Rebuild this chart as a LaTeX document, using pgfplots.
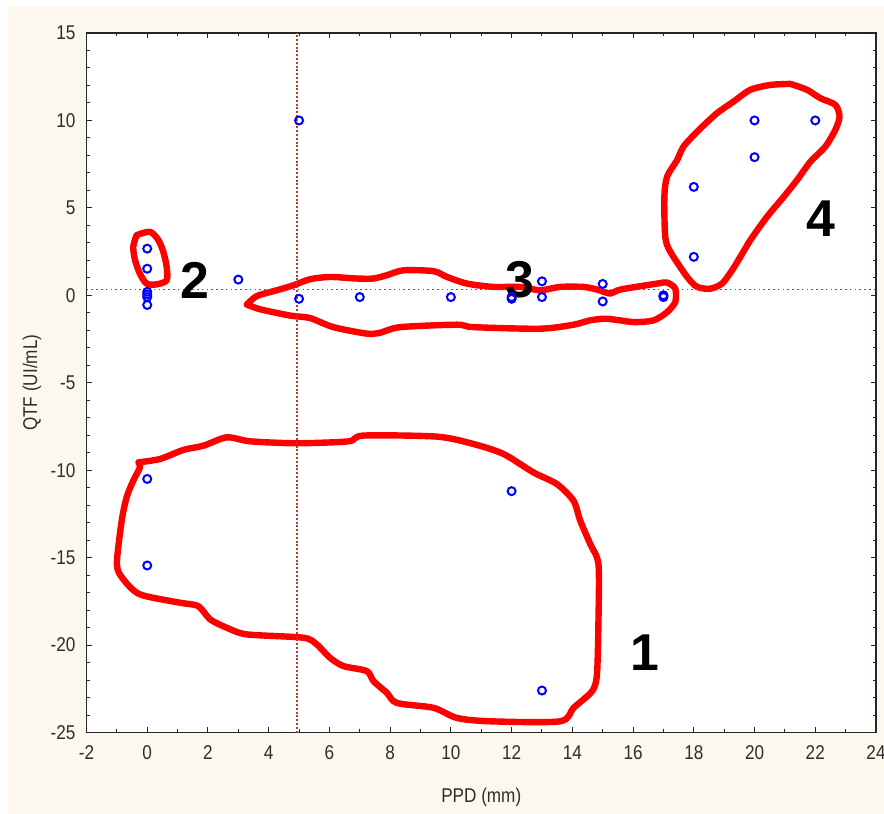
\documentclass[border=0pt]{standalone}
\usepackage{pgfplots}
\pgfplotsset{compat=1.18}
\usepackage{fontspec}
\setmainfont{Liberation Sans}[FakeStretch=0.86]
\newfontfamily\bignum{Liberation Sans}
\definecolor{cream}{RGB}{252,248,238}
\definecolor{refred}{RGB}{185,55,55}
\definecolor{txt}{RGB}{45,45,45}
\begin{document}
\begin{tikzpicture}
\useasboundingbox (0,0) rectangle (442bp,407bp);
\fill[white] (0,0) rectangle (442bp,407bp);
\fill[cream] (4bp,0) rectangle (442bp,403.5bp);
\begin{axis}[
  at={(43.25bp,40.75bp)}, anchor=south west,
  scale only axis, width=394.75bp, height=349.75bp,
  xmin=-2, xmax=24, ymin=-25, ymax=15,
  axis background/.style={fill=white},
  axis line style={black!85, line width=0.7bp},
  tick align=inside,
  major tick length=2.6bp, minor tick length=1.6bp,
  tick style={black!85, line width=0.5bp},
  xtick={-2,0,2,4,6,8,10,12,14,16,18,20,22,24},
  xticklabels={-2,0,2,4,6,8,10,12,14,16,18,20,22,24},
  ytick={-25,-20,-15,-10,-5,0,5,10,15},
  yticklabels={-25,-20,-15,-10,-5,0,5,10,15},
  minor x tick num=1, minor y tick num=4,
  ticklabel style={font=\fontsize{10}{12}\selectfont, text=txt},
  yticklabel style={xshift=-2bp},
  xticklabel style={yshift=-3bp},
  xlabel={PPD (mm)}, ylabel={QTF (UI/mL)},
  label style={font=\fontsize{10}{12}\selectfont, text=txt},
  xlabel style={at={(axis description cs:0.5,0)}, anchor=center, yshift=-32.25bp},
  ylabel style={at={(axis description cs:0,0.5)}, anchor=center, rotate=0, yshift=27.25bp},
  clip=false,
]
% cluster outlines
\addplot[red, line width=3.2bp, smooth, tension=0.45, line join=round, line cap=round] coordinates {
(-0.29,-9.55) (0.42,-9.36) (1.19,-8.84) (1.85,-8.60) (2.62,-8.12) (3.39,-8.35) (4.93,-8.46) (6.63,-8.35) (7.12,-8.02) (9.54,-8.08) (10.74,-8.50) (11.73,-9.07) (12.72,-10.13) (13.49,-10.79) (14.04,-11.75) (14.26,-12.89) (14.59,-14.23) (14.86,-15.38) (14.86,-18.62) (14.81,-21.68) (14.65,-22.64) (14.04,-23.59) (13.60,-24.36) (11.30,-24.36) (10.20,-24.17) (9.43,-23.59) (8.22,-23.31) (7.89,-22.73) (7.45,-22.06) (7.23,-21.49) (6.46,-21.20) (6.02,-20.73) (5.58,-19.96) (5.14,-19.58) (3.28,-19.39) (2.62,-19.01) (2.07,-18.53) (1.68,-17.77) (1.08,-17.58) (-0.24,-17.10) (-0.79,-16.23) (-1.00,-15.38) (-0.84,-12.89) (-0.68,-11.56) (-0.46,-10.60) (-0.24,-9.84) (-0.29,-9.55)
};
\addplot[red, line width=3.2bp, smooth, tension=0.45, line join=round, line cap=round] coordinates {
(3.28,-0.53) (3.61,-0.04) (4.27,0.29) (4.81,0.57) (5.36,0.92) (6.02,1.05) (6.90,0.96) (7.45,0.96) (7.89,1.15) (8.44,1.43) (9.43,1.38) (9.87,1.05) (10.53,0.67) (11.40,0.48) (12.28,0.48) (12.94,0.29) (13.60,0.48) (14.37,0.48) (14.81,0.33) (15.25,0.10) (15.58,0.33) (16.79,0.67) (17.12,0.73) (17.39,0.38) (17.39,-0.38) (17.12,-0.96) (16.68,-1.43) (16.02,-1.53) (15.14,-1.34) (14.59,-1.43) (14.04,-1.68) (12.94,-1.91) (10.74,-1.82) (10.20,-1.68) (8.33,-1.82) (7.67,-2.14) (7.23,-2.19) (6.13,-1.82) (5.36,-1.30) (4.71,-1.16) (3.72,-0.80) (3.28,-0.53)
};
\addplot[red, line width=3.2bp, smooth, tension=0.45, line join=round, line cap=round] coordinates {
(21.18,12.09) (21.73,11.75) (22.17,11.27) (22.66,10.89) (22.80,10.22) (22.66,9.46) (22.33,8.50) (21.84,7.64) (21.40,6.59) (20.96,5.63) (20.41,4.49) (19.86,3.15) (19.53,2.19) (19.26,1.43) (18.93,0.67) (18.54,0.38) (18.11,0.48) (17.78,1.05) (17.23,2.48) (17.06,3.34) (17.03,5.63) (17.12,6.78) (17.45,7.74) (17.66,8.50) (18.11,9.36) (18.76,10.41) (19.31,11.08) (19.86,11.75) (20.52,12.03) (21.18,12.09)
};
\addplot[red, line width=3.2bp, smooth, tension=0.5, line join=round, line cap=round] coordinates {
(-0.35,3.44) (0.09,3.63) (0.37,3.15) (0.53,2.48) (0.64,1.62) (0.64,0.86) (0.31,0.63) (-0.02,0.67) (-0.24,1.24) (-0.40,2.01) (-0.46,2.77) (-0.35,3.44)
};
% reference lines
\addplot[refred, line width=1.4bp, dash pattern=on 1bp off 0.9bp] coordinates {(4.93,-25) (4.93,15)};
\addplot[refred, line width=0.9bp, dash pattern=on 0.8bp off 1.6bp] coordinates {(-2,0.33) (24,0.33)};
% data points
\addplot[only marks, mark=o, mark size=2bp, mark options={blue, line width=1bp}] coordinates {
(0,2.67) (0,1.52) (0,0.2) (0,0.05) (0,-0.1) (0,-0.55)
(3,0.9) (5,10) (5,-0.2) (7,-0.1) (10,-0.1) (12,-0.1) (12,-0.2)
(13,0.8) (13,-0.1) (15,0.65) (15,-0.35) (17,0) (17,-0.1)
(18,6.2) (18,2.2) (20,10) (20,7.9) (22,10)
(0,-10.5) (0,-15.45) (12,-11.2) (13,-22.6)
};
% cluster numbers
\node[font=\bignum\bfseries\fontsize{26}{28}\selectfont] at (axis cs:16.4,-20.46) {1};
\node[font=\bignum\bfseries\fontsize{26}{28}\selectfont] at (axis cs:1.58,0.86) {2};
\node[font=\bignum\bfseries\fontsize{26}{28}\selectfont] at (axis cs:12.28,0.92) {3};
\node[font=\bignum\bfseries\fontsize{26}{28}\selectfont] at (axis cs:22.2,4.41) {4};
\end{axis}
\end{tikzpicture}
\end{document}
